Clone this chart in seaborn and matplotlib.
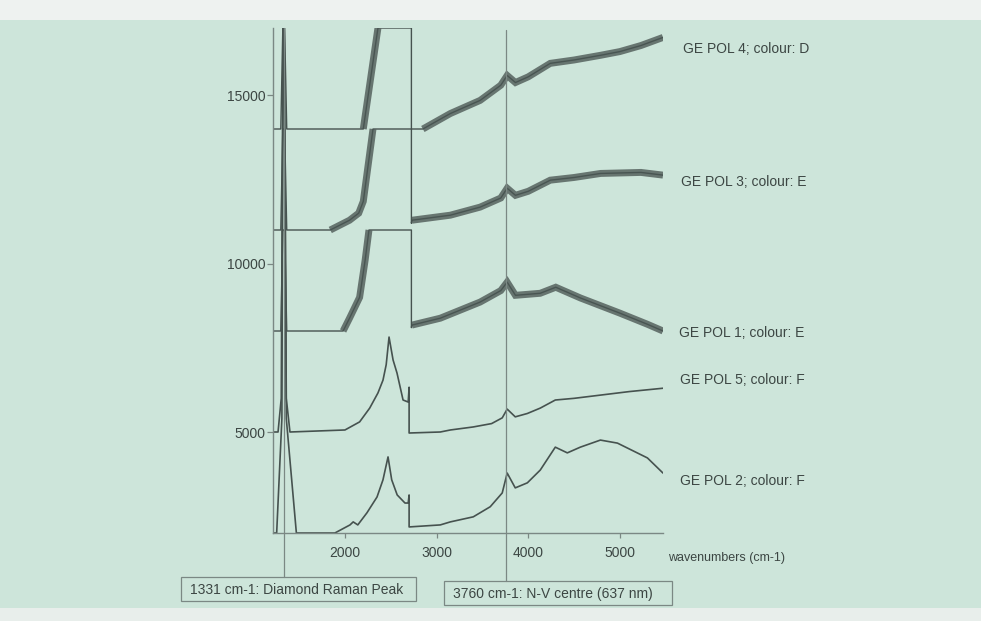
import numpy as np
import pandas as pd
import matplotlib
matplotlib.use("Agg")
import matplotlib.pyplot as plt
import seaborn as sns
from matplotlib.patches import Rectangle
from matplotlib.transforms import blended_transform_factory

# ---------------- data ----------------
POL4_W = [1215, 1300, 1322, 1342, 1365, 2200, 2280, 2360, 2725, 2725, 2850, 3150, 3475,
          3700, 3770, 3860, 4000, 4240, 4500, 4790, 5000, 5230, 5470]
POL4_V = [14000, 14000, 17000, 17000, 14000, 14000, 15500, 17000, 17000, 14000, 14000, 14460, 14850,
          15300, 15590, 15380, 15550, 15950, 16050, 16190, 16300, 16480, 16720]

POL3_W = [1215, 1300, 1322, 1342, 1365, 1840, 2050, 2150, 2200, 2306, 2725, 2725, 2730, 3150,
          3475, 3700, 3770, 3860, 4000, 4240, 4500, 4790, 5230, 5470]
POL3_V = [11000, 11000, 14000, 14000, 11000, 11000, 11290, 11500, 11850, 14000, 14000, 11200, 11290, 11440,
          11680, 11950, 12240, 12030, 12150, 12480, 12560, 12680, 12710, 12630]

POL1_W = [1215, 1300, 1322, 1342, 1365, 1980, 2050, 2160, 2220, 2262, 2725, 2725, 2730, 3040,
          3475, 3700, 3770, 3860, 4130, 4300, 4570, 5000, 5300, 5470]
POL1_V = [8000, 8000, 11000, 11000, 8000, 8000, 8380, 9000, 10100, 11000, 11000, 8100, 8175, 8380,
          8860, 9200, 9450, 9060, 9120, 9300, 8980, 8530, 8200, 8000]

POL5_W = [1215, 1270, 1305, 1325, 1337, 1360, 1400, 2000, 2160, 2270, 2360, 2415, 2450, 2481,
          2525, 2568, 2634, 2690, 2700, 2700, 3040, 3150, 3400, 3600, 3716, 3770, 3858, 3990,
          4131, 4295, 4500, 4800, 5100, 5470]
POL5_V = [5000, 5000, 6000, 17000, 17000, 6000, 5000, 5060, 5300, 5710, 6160, 6540, 7000, 7820,
          7140, 6750, 5950, 5890, 6330, 4970, 5000, 5060, 5150, 5250, 5420, 5680, 5450, 5550,
          5710, 5950, 6000, 6100, 6200, 6300]

POL2_W = [1215, 1255, 1312, 1325, 1337, 1360, 1470, 1890, 2055, 2090, 2140, 2240, 2350, 2415,
          2470, 2510, 2570, 2655, 2690, 2700, 2700, 3040, 3150, 3400, 3585, 3716, 3770, 3858,
          3990, 4131, 4295, 4426, 4568, 4787, 4973, 5300, 5470]
POL2_V = [2000, 2000, 5400, 17000, 17000, 5400, 2000, 2000, 2240, 2330, 2240, 2600, 3070, 3580,
          4260, 3580, 3130, 2890, 2890, 3130, 2180, 2240, 2330, 2480, 2780, 3190, 3780, 3340,
          3490, 3870, 4550, 4380, 4550, 4760, 4670, 4230, 3780]

SERIES_LABELS = ["GE POL 4; colour: D", "GE POL 3; colour: E", "GE POL 1; colour: E",
                 "GE POL 5; colour: F", "GE POL 2; colour: F"]
X_TICKS = [2000, 3000, 4000, 5000]
Y_TICKS = [5000, 10000, 15000]
MARKERS = [1331, 3760]
MARKER_TEXT = ["1331 cm-1: Diamond Raman Peak", "3760 cm-1: N-V centre (637 nm)"]
X_LABEL = "wavenumbers (cm-1)"

# ---------------- style ----------------
sns.set_style("ticks")
plt.rcParams["font.family"] = ["Liberation Sans", "DejaVu Sans"]

W, H = 981, 621
BG = "#cde5da"
SPEC = "#46524f"
NOISE = "#4a5653"
LINE = "#7b8884"
TXT = "#3c4643"

fig = plt.figure(figsize=(W / 100, H / 100), dpi=100)
fig.patch.set_facecolor(BG)
fig.patches.append(Rectangle((0, 1 - 20 / H), 1, 20 / H, transform=fig.transFigure,
                             facecolor="#eef2f0", edgecolor="none", zorder=0))
fig.patches.append(Rectangle((0, 0), 1, 13 / H, transform=fig.transFigure,
                             facecolor="#e8eeeb", edgecolor="none", zorder=0))

ax = fig.add_axes([273 / W, 1 - 533 / H, (663 - 273) / W, (533 - 28) / H])
ax.set_facecolor("none")


def draw(w, v, noisy=None):
    df = pd.DataFrame({"w": w, "v": v})
    sns.lineplot(data=df, x="w", y="v", estimator=None, sort=False, color=SPEC,
                 lw=1.0 if noisy else 1.2, ax=ax, legend=False)
    if noisy:
        parts = []
        for k, (a, b) in enumerate(noisy):
            sub = df[(df.w >= a) & (df.w <= b)].copy()
            sub["seg"] = k
            parts.append(sub)
        nd = pd.concat(parts)
        sns.lineplot(data=nd, x="w", y="v", units="seg", estimator=None, sort=False,
                     color=NOISE, lw=5.0, alpha=0.78, ax=ax, legend=False,
                     solid_capstyle="butt", solid_joinstyle="miter")


draw(POL4_W, POL4_V, [(2200, 2360), (2850, 5470)])
draw(POL3_W, POL3_V, [(1840, 2306), (2730, 5470)])
draw(POL1_W, POL1_V, [(1980, 2262), (2730, 5470)])
draw(POL5_W, POL5_V)
draw(POL2_W, POL2_V)

ax.set_xlim(1215, 5470)
ax.set_ylim(2000, 17000)
ax.set_xticks(X_TICKS)
ax.set_yticks(Y_TICKS)
ax.set_xlabel("")
ax.set_ylabel("")
for s in ["top", "right"]:
    ax.spines[s].set_visible(False)
for s in ["left", "bottom"]:
    ax.spines[s].set_color(LINE)
    ax.spines[s].set_linewidth(1.0)
ax.tick_params(axis="x", direction="out", length=3.5, width=0.9, color=LINE,
               labelcolor=TXT, labelsize=10, pad=6)
ax.tick_params(axis="y", direction="out", length=4.5, width=0.9, color=LINE,
               labelcolor=TXT, labelsize=10, pad=1)

# marker lines going down to the boxes
trans = blended_transform_factory(ax.transData, ax.transAxes)
ax.plot([MARKERS[0], MARKERS[0]], [1.0, -0.087], transform=trans, clip_on=False,
        color=LINE, lw=0.9)
ax.plot([MARKERS[1], MARKERS[1]], [0.996, -0.095], transform=trans, clip_on=False,
        color=LINE, lw=0.9)

# boxes
boxes = [(181, 577, 416, 601, 297, 590), (444, 581, 672, 605, 553, 594)]
for (x0, y0, x1, y1, tx, ty), txt in zip(boxes, MARKER_TEXT):
    fig.patches.append(Rectangle((x0 / W, 1 - y1 / H), (x1 - x0) / W, (y1 - y0) / H,
                                 transform=fig.transFigure, facecolor="none",
                                 edgecolor=LINE, lw=0.9))
    fig.text(tx / W, 1 - ty / H, txt, ha="center", va="center", fontsize=10, color=TXT)

# series labels
label_pos = [(683, 49), (681, 182), (679, 333), (680, 380), (680, 481)]
for (x, y), s in zip(label_pos, SERIES_LABELS):
    fig.text(x / W, 1 - y / H, s, ha="left", va="center", fontsize=10, color=TXT)

fig.text(668 / W, 1 - 558 / H, X_LABEL, ha="left", va="center", fontsize=9, color=TXT)

fig.savefig("out.png", dpi=100, facecolor=fig.get_facecolor())
